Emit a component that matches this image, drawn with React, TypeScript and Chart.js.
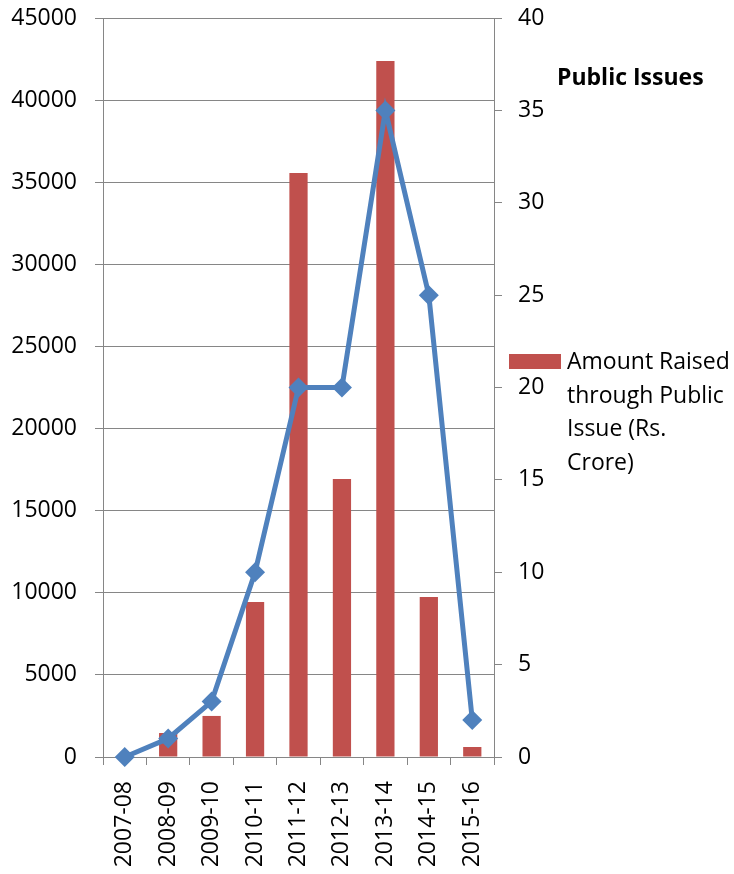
import React, { useEffect, useRef } from "react";
import { Chart, registerables } from "chart.js";

Chart.register(...registerables);

const categories = ["2007-08", "2008-09", "2009-10", "2010-11", "2011-12", "2012-13", "2013-14", "2014-15", "2015-16"];
const amountRaised = [0, 1460, 2500, 9440, 35560, 16930, 42380, 9740, 610];
const publicIssues = [0, 1, 3, 10, 20, 20, 35, 25, 2];
const legendLines = ["Amount Raised", "through Public", "Issue (Rs.", "Crore)"];
const lineTitle = "Public Issues";

const BAR_COLOR = "#C0504D";
const LINE_COLOR = "#4F81BD";
const GRID = "#868686";
const FONT = '"Open Sans", sans-serif';

const legendPlugin = {
  id: "customLegend",
  afterDraw(chart: any) {
    const ctx = chart.ctx;
    const area = chart.chartArea;
    ctx.save();
    ctx.fillStyle = "#000";
    ctx.textAlign = "left";
    ctx.textBaseline = "alphabetic";
    ctx.font = `bold 23px ${FONT}`;
    ctx.fillText(lineTitle, area.right + 63, 85);
    ctx.fillStyle = BAR_COLOR;
    ctx.fillRect(area.right + 15, 354, 52, 15);
    ctx.fillStyle = "#000";
    ctx.font = `23px ${FONT}`;
    legendLines.forEach((t, i) => {
      ctx.fillText(t, area.right + 73, 369 + i * 33.7);
    });
    ctx.restore();
  },
};

export default function App() {
  const ref = useRef<HTMLCanvasElement | null>(null);
  useEffect(() => {
    if (!ref.current) return;
    Chart.defaults.font.family = FONT;
    Chart.defaults.font.size = 23;
    Chart.defaults.color = "#000";
    const chart = new Chart(ref.current, {
      type: "bar",
      data: {
        labels: categories,
        datasets: [
          {
            type: "line",
            label: lineTitle,
            data: publicIssues,
            yAxisID: "y1",
            borderColor: LINE_COLOR,
            backgroundColor: LINE_COLOR,
            borderWidth: 5,
            pointStyle: "rectRot",
            pointRadius: 10,
            pointBorderWidth: 0,
            pointBackgroundColor: LINE_COLOR,
            tension: 0,
            clip: false,
            order: 0,
          } as any,
          {
            type: "bar",
            label: "Amount Raised through Public Issue (Rs. Crore)",
            data: amountRaised,
            yAxisID: "y",
            backgroundColor: BAR_COLOR,
            barPercentage: 0.42,
            categoryPercentage: 1,
            order: 1,
          },
        ],
      },
      options: {
        responsive: false,
        animation: false,
        devicePixelRatio: 1,
        layout: { padding: { top: 18, bottom: 0, left: 0, right: 0 } },
        plugins: { legend: { display: false }, tooltip: { enabled: false } },
        scales: {
          x: {
            offset: true,
            grid: { display: true, drawOnChartArea: false, drawTicks: true, tickLength: 8, color: GRID, offset: true },
            border: { color: GRID },
            ticks: { minRotation: 90, maxRotation: 90, padding: 16, autoSkip: false },
            afterFit: (s: any) => { s.height = 117; s.paddingLeft = 0; s.paddingRight = 0; },
          },
          y: {
            position: "left",
            min: 0,
            max: 45000,
            ticks: { stepSize: 5000, padding: 18, callback: (v: any) => String(v) },
            grid: { color: GRID, tickLength: 8, drawTicks: true },
            border: { color: GRID },
            afterFit: (s: any) => { s.width = 103; s.paddingTop = 0; s.paddingBottom = 0; },
          },
          y1: {
            position: "right",
            min: 0,
            max: 40,
            ticks: { stepSize: 5, padding: 16, callback: (v: any) => String(v) },
            grid: { drawOnChartArea: false, color: GRID, tickLength: 8, drawTicks: true },
            border: { color: GRID },
            afterFit: (s: any) => { s.width = 240; s.paddingTop = 0; s.paddingBottom = 0; },
          },
        },
      },
      plugins: [legendPlugin],
    });
    return () => chart.destroy();
  }, []);
  return (
    <div style={{ position: "absolute", left: 0, top: 0, width: 734, height: 874, background: "#fff" }}>
      <canvas ref={ref} width={734} height={874} style={{ width: 734, height: 874 }} />
    </div>
  );
}
